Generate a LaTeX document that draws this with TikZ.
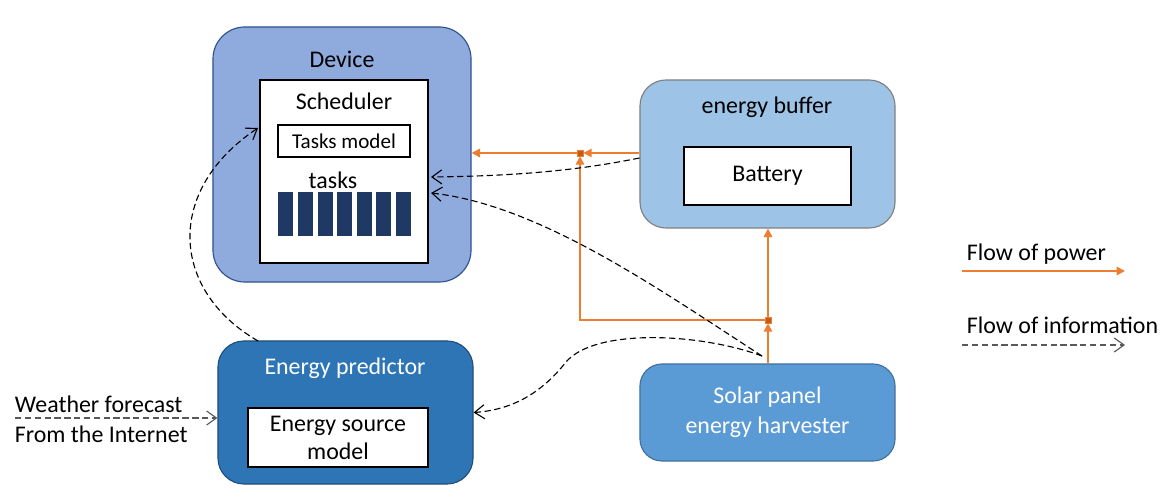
\documentclass[tikz,border=0pt]{standalone}
\usepackage{fontspec}
\setmainfont{Carlito}
\usepackage{tikz}
\usetikzlibrary{positioning, arrows.meta}

\definecolor{devblue}{HTML}{8FAADC}
\definecolor{devline}{HTML}{2F528F}
\definecolor{bufblue}{HTML}{9DC3E6}
\definecolor{predblue}{HTML}{2E75B6}
\definecolor{predline}{HTML}{1F4E79}
\definecolor{solblue}{HTML}{5B9BD5}
\definecolor{solline}{HTML}{41719C}
\definecolor{barnavy}{HTML}{203864}
\definecolor{powerorange}{HTML}{ED7D31}
\definecolor{junctionbrown}{HTML}{C55A11}

\tikzset{
  bigbox/.style={draw, line width=0.8pt, rounded corners=0.65cm, minimum width=6.375cm},
  innerbox/.style={draw, fill=white, line width=0.8pt},
  lbl/.style={font=\fontsize{17}{21.3}\selectfont, align=center},
  power/.style={powerorange, line width=1.3pt, -{Triangle[length=6pt, width=6pt]}},
  info/.style={black, line width=0.8pt, dash pattern=on 4.5pt off 2.5pt, -{Straight Barb[length=7pt, width=10pt]}},
  junction/.style={draw=powerorange, fill=junctionbrown, minimum size=0.15cm, inner sep=0pt}
}

\begin{document}
\begin{tikzpicture}[x=0.025cm, y=-0.025cm]
\useasboundingbox (0,0) rectangle (1166,498);

% Boxes
\node[bigbox, fill=devblue, draw=devline, rounded corners=0.8cm, minimum height=6.375cm, minimum width=6.45cm] (dev) at (342,154.5) {};
\node[lbl] at (342,59) {Device};
\node[innerbox, minimum width=4.2cm, minimum height=4.575cm] (sch) at (344,171.5) {};
\node[lbl] at (344,101) {Scheduler};
\node[innerbox, minimum width=3.3cm, minimum height=0.8cm, font=\fontsize{15}{17}\selectfont] (tm) at (344,141) {Tasks model};
\node[lbl] (tasks) at (333,180) {tasks};
\foreach \i in {0,...,6}
  \fill[barnavy] (278.3+19.6*\i,192.3) rectangle ++(15,44);

\node[bigbox, fill=bufblue, draw=gray, minimum height=3.7cm] (buf) at (767.5,154) {};
\node[lbl] at (767,107) {energy buffer};
\node[innerbox, minimum width=4.175cm, minimum height=1.45cm, lbl] (bat) at (767.5,176) {Battery};

\node[bigbox, fill=predblue, draw=predline, minimum height=3.575cm] (pred) at (345.5,412.5) {};
\node[lbl, text=white] at (345,368) {Energy predictor};
\node[innerbox, minimum width=4.5cm, minimum height=1.475cm, lbl, font=\fontsize{17}{20}\selectfont] (esm) at (338,437.5) {Energy source\\model};

\node[bigbox, fill=solblue, draw=solline, rounded corners=0.55cm, minimum height=2.425cm, lbl, text=white] (sol) at (767.5,412.5) {Solar panel\\energy harvester};

% Flow of power
\node[junction] (j1) at (580,153) {};
\node[junction] (j2) at (768,320) {};
\draw[power] (buf.west |- j1) -- (j1);
\draw[power] (j1) -- (j1 -| dev.east);
\draw[power] (j2) -| (j1);
\draw[power] (sol.north -| j2) -- (j2);
\draw[power] (j2) -- (j2 |- buf.south);

% Flow of information
\coordinate (s0) at (762,356);
\coordinate (in1) at (431,177);
\coordinate (in2) at (431,193);
\coordinate (p0) at (258,341);
\coordinate (in3) at (258,128);
\draw[info] ([yshift=-0.1cm]buf.west) .. controls (580,170) and (520,176) .. (in1);
\draw[info] (s0) .. controls (660,290) and (540,205) .. (in2);
\draw[info] (s0) .. controls (700,333) and (595,328) .. (566,362) .. controls (540,395) and (510,410) .. (pred.east);
\draw[info] (p0) .. controls (170,290) and (165,190) .. (in3);

% Weather forecast
\coordinate (wf) at (15,418);
\draw[info, gray!70!black] (wf) -- (wf -| pred.west);
\node[lbl, anchor=west] at (10,404) {Weather forecast};
\node[lbl, anchor=west] at (10,434) {From the Internet};

% Legend
\node[lbl, anchor=west] (lp) at (962,254) {Flow of power};
\node[lbl, anchor=west] (li) at (962,325) {Flow of information};
\coordinate (lp0) at (962,271);
\coordinate (li0) at (962,345);
\draw[power] (lp0) -- ++(163,0);
\draw[info, gray!70!black] (li0) -- ++(163,0);

\end{tikzpicture}
\end{document}
